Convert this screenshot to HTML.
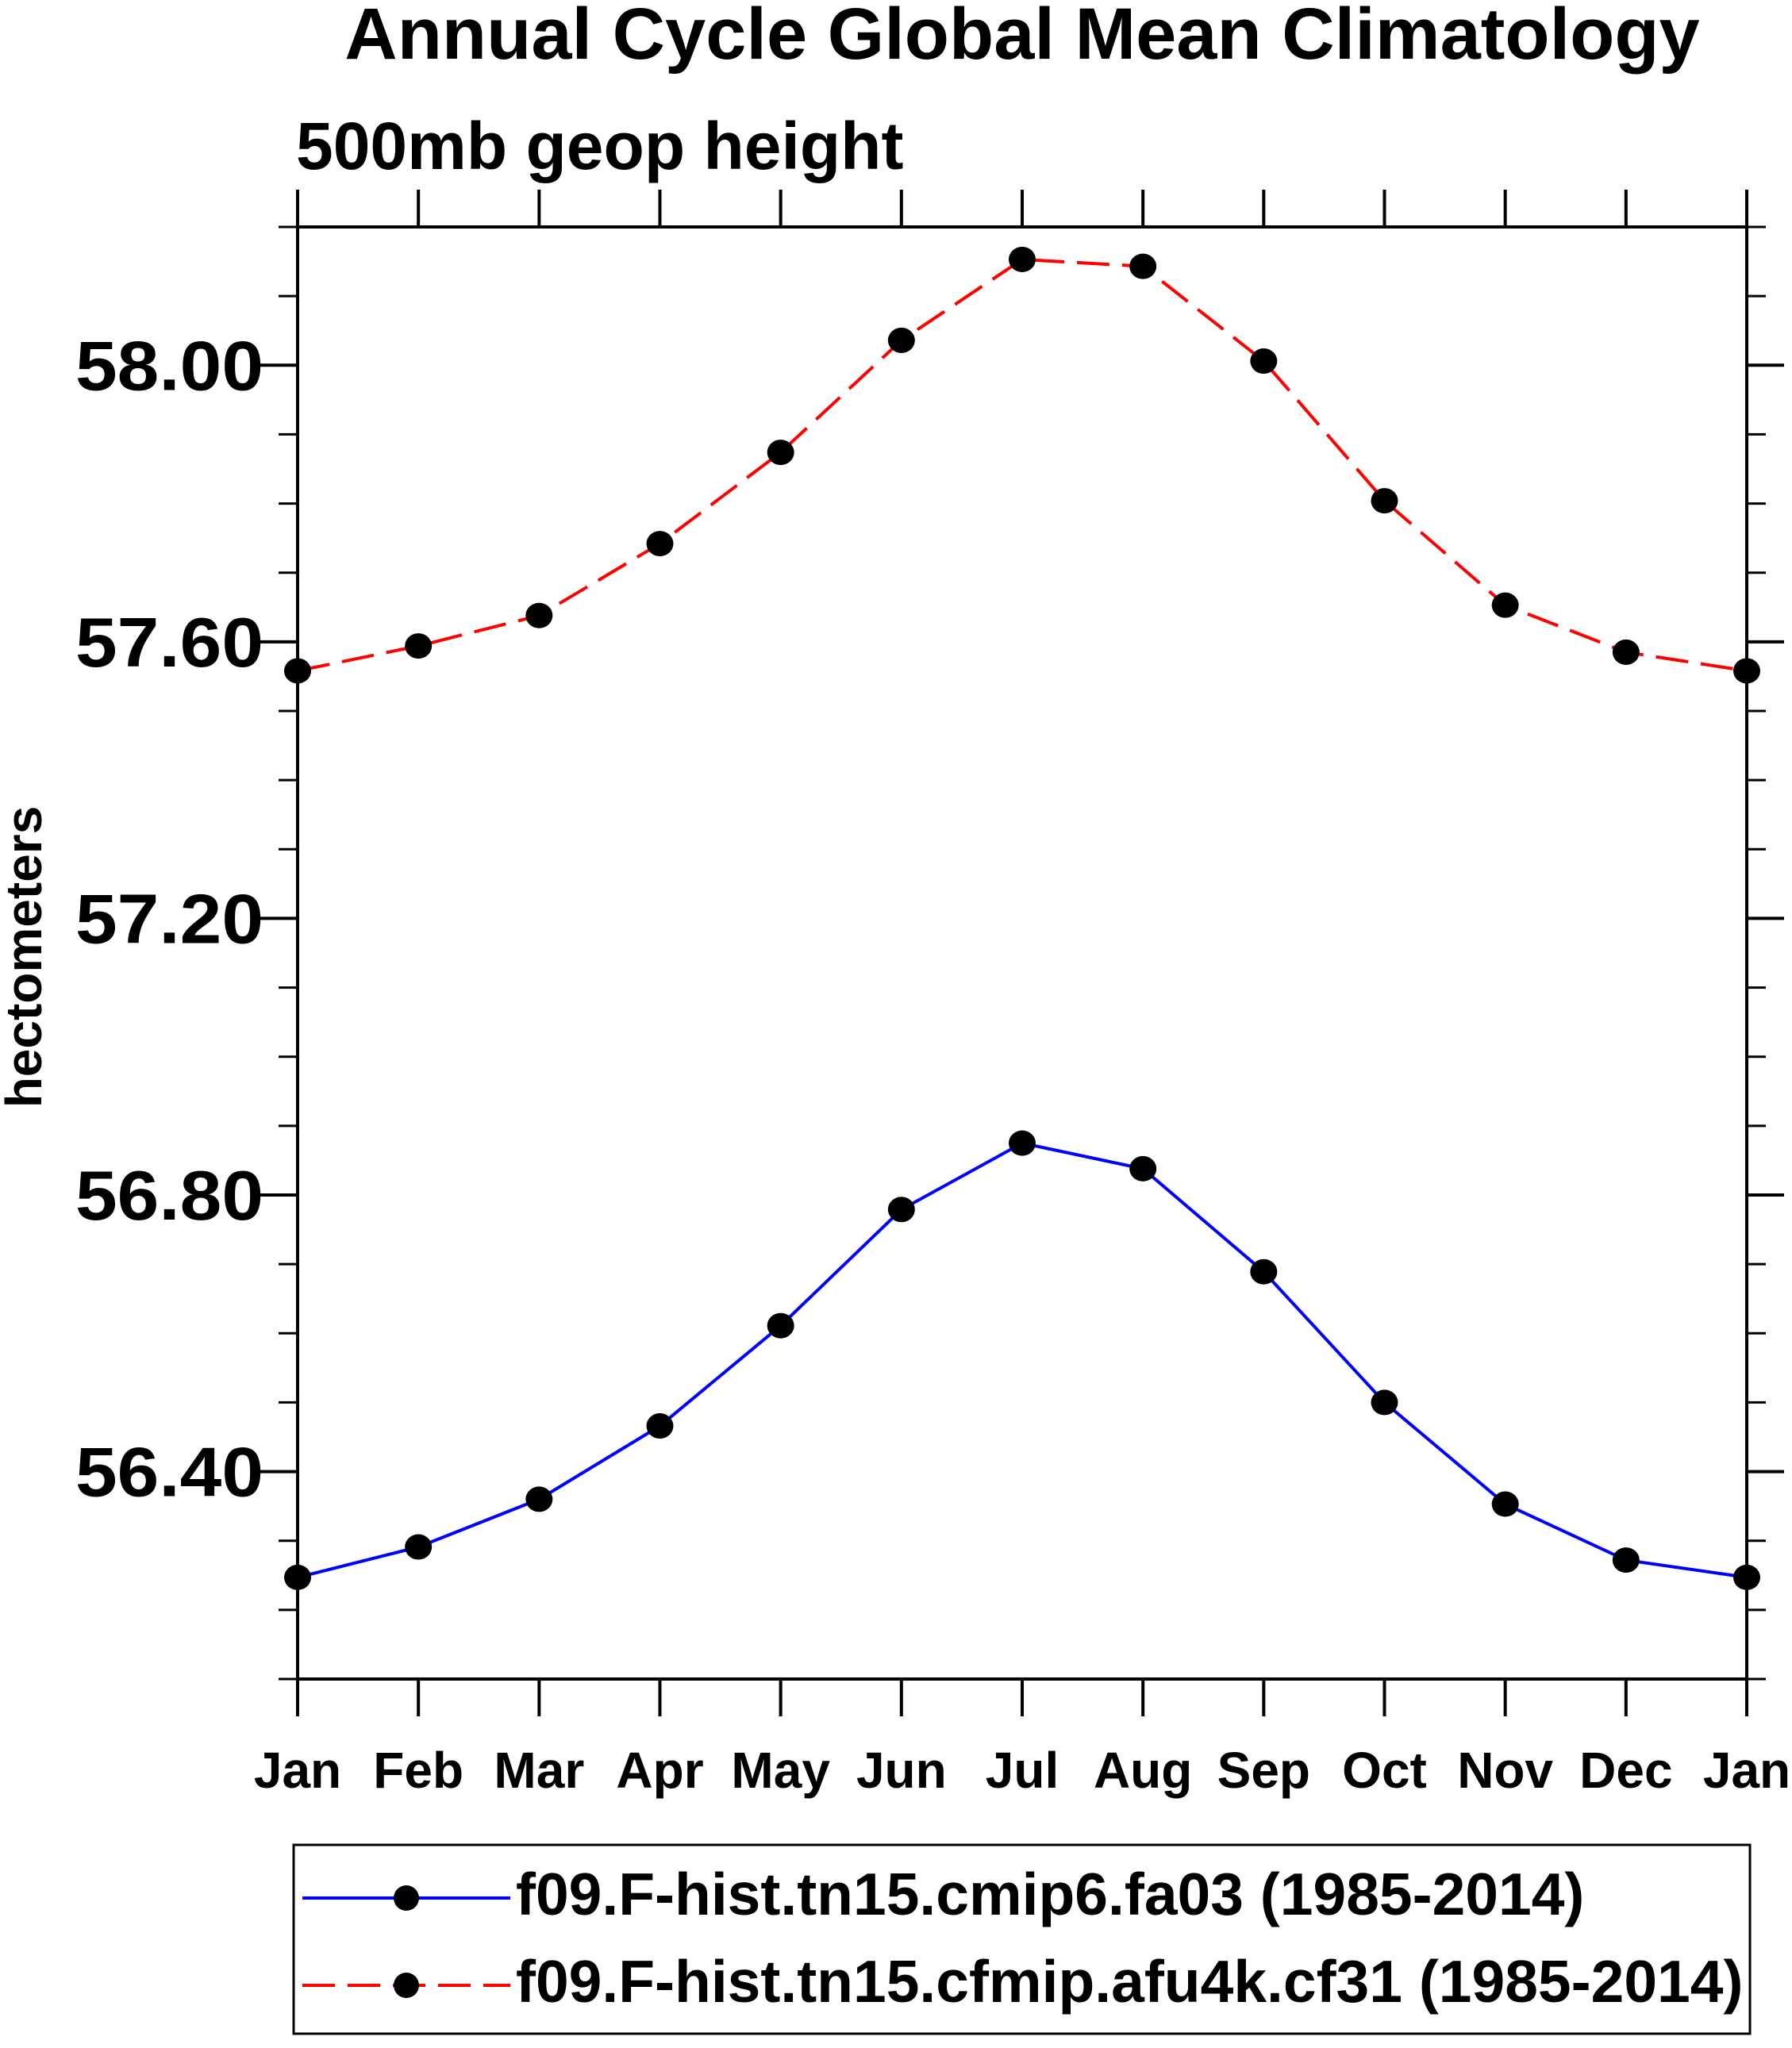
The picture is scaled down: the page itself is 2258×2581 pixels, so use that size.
<!DOCTYPE html>
<html><head><meta charset="utf-8"><style>
html,body{margin:0;padding:0;background:#fff;}
svg text{font-family:"Liberation Sans",Arial,sans-serif;font-weight:bold;fill:#000;}
</style></head><body>
<svg id="chart" width="2258" height="2576" viewBox="0 0 2258 2576" xmlns="http://www.w3.org/2000/svg">
<text x="1288" y="74" font-size="92" text-anchor="middle">Annual Cycle Global Mean Climatology</text>
<text x="373" y="213" font-size="84">500mb geop height</text>
<text transform="translate(52,1206) rotate(-90)" font-size="64" text-anchor="middle">hectometers</text>
<g id="axes"></g>
<g id="series"></g>
<g id="legend">
  <rect x="370" y="2325" width="1835" height="238" fill="none" stroke="#000" stroke-width="3"/>
  <line x1="381" y1="2392" x2="643" y2="2392" stroke="#0000ff" stroke-width="4"/>
  <circle cx="512" cy="2392" r="16" fill="#000"/>
  <text x="650" y="2413" font-size="75">f09.F-hist.tn15.cmip6.fa03 (1985-2014)</text>
  <line x1="381" y1="2502" x2="643" y2="2502" stroke="#ff0000" stroke-width="4" stroke-dasharray="41,16"/>
  <circle cx="512" cy="2502" r="16" fill="#000"/>
  <text x="650" y="2523" font-size="75">f09.F-hist.tn15.cfmip.afu4k.cf31 (1985-2014)</text>
</g>
</svg>
<script>
const months = ["Jan","Feb","Mar","Apr","May","Jun","Jul","Aug","Sep","Oct","Nov","Dec","Jan"];
const blueValues = [56.247,56.291,56.360,56.466,56.611,56.779,56.875,56.838,56.689,56.500,56.353,56.272,56.247];
const redValues = [57.558,57.594,57.638,57.742,57.874,58.036,58.153,58.143,58.006,57.804,57.653,57.585,57.558];
const yMajorTicks = [56.4,56.8,57.2,57.6,58.0];
const yTickLabels = ["56.40","56.80","57.20","57.60","58.00"];
const yMin = 56.1, yMax = 58.2;

const L=375,R=2201,T=286,B=2116;
const NS="http://www.w3.org/2000/svg";
function xs(i){return L+(R-L)*i/(months.length-1);}
function ys(v){return B-(B-T)*(v-yMin)/(yMax-yMin);}
function mk(tag,attrs,parent){const e=document.createElementNS(NS,tag);for(const k in attrs)e.setAttribute(k,attrs[k]);parent.appendChild(e);return e;}
const axes=document.getElementById('axes');
const series=document.getElementById('series');

const frame=mk('rect',{x:L,y:T,width:R-L,height:B-T,fill:'none',stroke:'#000','stroke-width':4},axes);



months.forEach((m,i)=>{
  const x=xs(i);
  const tb=mk('line',{x1:x,y1:B,x2:x,y2:B+47,stroke:'#000','stroke-width':4},axes);
  
  
  const tt=mk('line',{x1:x,y1:T,x2:x,y2:T-47,stroke:'#000','stroke-width':4},axes);
  
  
  const lab=mk('text',{x:x,y:2253,'font-size':64,'text-anchor':'middle'},axes);
  lab.textContent=m;
  
  
});

for(let k=0;k<=21;k++){
  const v=yMin+k*0.1;
  const y=ys(v);
  const isMajor=yMajorTicks.some(t=>Math.abs(t-v)<1e-6);
  const len=isMajor?47:24;
  const tl=mk('line',{x1:L-len,y1:y,x2:L,y2:y,stroke:'#000','stroke-width':isMajor?4:3},axes);
  
  
  const tr=mk('line',{x1:R,y1:y,x2:R+len,y2:y,stroke:'#000','stroke-width':isMajor?4:3},axes);
  
  
}
yMajorTicks.forEach((v,i)=>{
  const t=mk('text',{x:95,y:ys(v)+31,'font-size':88,textLength:237,lengthAdjust:'spacingAndGlyphs'},axes);
  t.textContent=yTickLabels[i];
  
  
});

function drawSeries(vals,color,dash,name){
  const pts=vals.map((v,i)=>xs(i)+','+ys(v)).join(' ');
  const pl=mk('polyline',{points:pts,fill:'none',stroke:color,'stroke-width':4},series);
  if(dash)pl.setAttribute('stroke-dasharray',dash);
  
  
  vals.forEach((v,i)=>{
    const c=mk('ellipse',{cx:xs(i),cy:ys(v),rx:17,ry:16,fill:'#000'},series);
    
    
  });
}
drawSeries(redValues,'#ff0000','41,16','red-series');
drawSeries(blueValues,'#0000ff',null,'blue-series');
</script>
</body></html>
